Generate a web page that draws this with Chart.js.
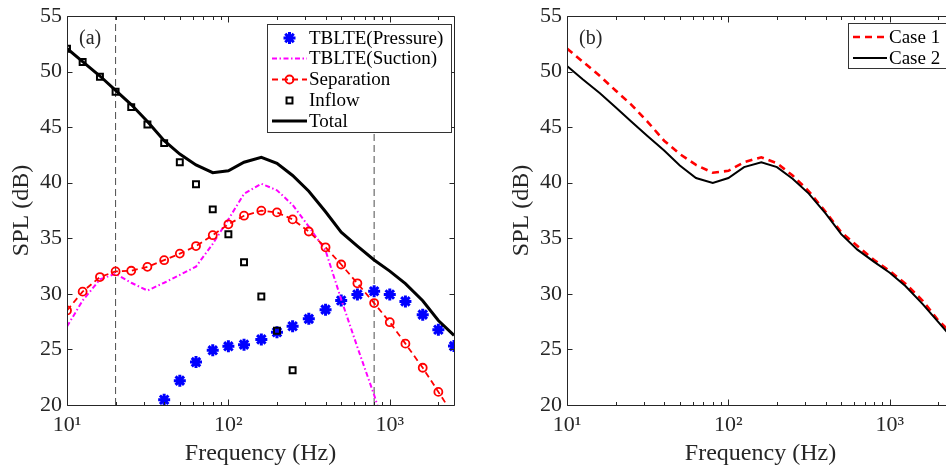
<!DOCTYPE html>
<html><head><meta charset="utf-8">
<script src="https://cdn.jsdelivr.net/npm/chart.js@4.4.1/dist/chart.umd.min.js"></script>
<style>
html,body{margin:0;padding:0;background:#fff;width:946px;height:472px;overflow:hidden;position:relative;}
.panel{position:absolute;top:0;width:473px;height:472px;}
#pa{left:0}
#pb{left:500px}
</style></head><body>
<div class="panel" id="pa"><canvas id="ca" width="473" height="472"></canvas></div>
<div class="panel" id="pb"><canvas id="cb" width="473" height="472"></canvas></div>
<script>
// 1/3-octave band centre frequencies (Hz)
const freq = [10,12.5,16,20,25,31.5,40,50,63,80,100,125,160,200,250,315,400,500,630,800,1000,1250,1600,2000,2500];
// panel (a)
const tblteP = [null,null,null,null,null,null,20.47,22.19,23.86,24.92,25.28,25.43,25.9,26.55,27.09,27.75,28.58,29.4,29.94,30.24,29.94,29.32,28.13,26.77,25.3];
const tblteS = [27.06,29.4,31.3,31.81,31.0,30.3,31.0,31.7,32.45,34.5,36.7,39.0,39.91,39.32,38.0,36.05,33.9,29.5,25.2,20.9,16.4,null,null,null,null];
const separation = [28.51,30.2,31.51,32.02,32.08,32.43,33.03,33.62,34.3,35.28,36.26,37.03,37.48,37.33,36.7,35.61,34.19,32.64,30.95,29.17,27.45,25.52,23.35,21.18,19.0];
const inflow = [52.06,50.86,49.53,48.19,46.8,45.23,43.56,41.84,39.86,37.6,35.37,32.85,29.76,26.68,23.12,null,null,null,null,null,null,null,null,null,null];
const total = [52.08,50.9,49.6,48.3,47.03,45.5,43.78,42.58,41.6,40.9,41.07,41.84,42.29,41.75,40.65,39.23,37.39,35.55,34.3,33.05,32.05,30.92,29.38,27.6,26.26];
// panel (b)
const case1 = total;
const case2 = [50.51,49.3,48.05,46.8,45.5,44.2,42.9,41.55,40.42,39.97,40.42,41.4,41.84,41.4,40.36,39.02,37.24,35.37,33.98,32.88,31.9,30.71,29.08,27.45,25.85];
// reference vertical lines (Hz)
const vlines = [20, 800];
// axis
const xMin = 10, xMax = 2500, yMin = 20, yMax = 55, yStep = 5;
const xMajor = [10, 100, 1000];
const xLabels = {10:'10\u00B9', 100:'10\u00B2', 1000:'10\u00B3'};
const xTitle = 'Frequency (Hz)';
const yTitle = 'SPL (dB)';
const legendA = ['TBLTE(Pressure)','TBLTE(Suction)','Separation','Inflow','Total'];
const legendB = ['Case 1','Case 2'];

const TXT = '#262626';
const FONT = 'Liberation Serif';
const CSSFONT = "'Liberation Serif', 'DejaVu Serif', serif";

function pts(arr){ return freq.map((f,i)=>({x:f, y:arr[i]})); }

function drawMarker(ctx, style, x, y, r, color, lw, fill){
  ctx.save();
  ctx.strokeStyle = color; ctx.lineWidth = lw; ctx.setLineDash([]);
  ctx.beginPath();
  if (style === 'star'){
    for (let k=0;k<4;k++){
      const a = k*Math.PI/4;
      const dx = Math.cos(a)*r, dy = Math.sin(a)*r;
      ctx.moveTo(x-dx,y-dy); ctx.lineTo(x+dx,y+dy);
    }
    ctx.stroke();
  } else if (style === 'circle'){
    ctx.arc(x,y,r,0,Math.PI*2);
    if (fill){ctx.fillStyle=fill;ctx.fill();}
    ctx.stroke();
  } else if (style === 'rect'){
    const s = Math.SQRT1_2*r;
    ctx.rect(x-s,y-s,2*s,2*s);
    if (fill){ctx.fillStyle=fill;ctx.fill();}
    ctx.stroke();
  }
  ctx.restore();
}

const framePlugin = {
  id: 'frame',
  afterDatasetsDraw(chart){
    const {ctx, chartArea:a, scales:{x, y}} = chart;
    const cfg = chart.options.plugins.frame;
    ctx.save();
    ctx.strokeStyle = TXT; ctx.lineWidth = 1; ctx.setLineDash([]);
    const L = Math.round(a.left)+0.5, R = Math.round(a.right)+0.5, T = Math.round(a.top)+0.5, B = Math.round(a.bottom)+0.5;
    ctx.beginPath();
    ctx.moveTo(L,T); ctx.lineTo(R,T); ctx.lineTo(R,B); ctx.lineTo(L,B); ctx.closePath();
    ctx.stroke();
    ctx.beginPath();
    for (let d = 10; d <= 1000; d *= 10){
      for (let m = 1; m <= 9; m++){
        const v = d*m;
        if (v < xMin || v > xMax) continue;
        const px = Math.round(x.getPixelForValue(v))+0.5;
        const len = (m===1) ? 6 : 3.5;
        ctx.moveTo(px,B); ctx.lineTo(px,B-len);
        ctx.moveTo(px,T); ctx.lineTo(px,T+len);
      }
    }
    for (let v = yMin; v <= yMax; v += yStep){
      const py = Math.round(y.getPixelForValue(v))+0.5;
      ctx.moveTo(L,py); ctx.lineTo(L+5,py);
      ctx.moveTo(R,py); ctx.lineTo(R-5,py);
    }
    ctx.stroke();
    // axis titles
    ctx.fillStyle = TXT;
    ctx.font = "24px " + CSSFONT;
    ctx.textAlign = 'center'; ctx.textBaseline = 'middle';
    ctx.fillText(xTitle, (a.left + a.right)/2, 454);
    ctx.save();
    ctx.translate(22, (a.top + a.bottom)/2);
    ctx.rotate(-Math.PI/2);
    ctx.fillText(yTitle, 0, 0);
    ctx.restore();
    // panel label
    ctx.font = "20px " + CSSFONT;
    ctx.textBaseline = 'middle'; ctx.textAlign = 'left';
    ctx.fillText(cfg.label, a.left + 12, a.top + 23);
    // legend
    const lg = cfg.legend;
    ctx.fillStyle = '#fff';
    ctx.fillRect(lg.box[0], lg.box[1], lg.box[2]-lg.box[0], lg.box[3]-lg.box[1]);
    ctx.strokeStyle = '#333'; ctx.lineWidth = 1;
    ctx.strokeRect(lg.box[0]+0.5, lg.box[1]+0.5, lg.box[2]-lg.box[0], lg.box[3]-lg.box[1]);
    ctx.font = "19px " + CSSFONT;
    lg.items.forEach((name, k) => {
      const ds = chart.data.datasets.find(d => d.label === name);
      const yy = lg.rows[k];
      if (ds.showLine !== false){
        ctx.save();
        ctx.strokeStyle = ds.borderColor; ctx.lineWidth = ds.borderWidth;
        ctx.setLineDash(ds.borderDash || []);
        ctx.beginPath(); ctx.moveTo(lg.sx[0], yy); ctx.lineTo(lg.sx[1], yy); ctx.stroke();
        ctx.restore();
      }
      if (ds.pointRadius > 0){
        drawMarker(ctx, ds.pointStyle, (lg.sx[0]+lg.sx[1])/2, yy, ds.pointRadius, ds.pointBorderColor, ds.pointBorderWidth, ds.pointBackgroundColor);
      }
      ctx.fillStyle = '#000';
      ctx.textAlign = 'left'; ctx.textBaseline = 'middle';
      ctx.fillText(name, lg.tx, yy + 1);
    });
    ctx.restore();
  }
};

function options(frameCfg){
  return {
    responsive: false, animation: false, devicePixelRatio: 1,
    layout: {padding: {top: 12, right: 19, left: 0, bottom: 0}},
    elements: {line: {tension: 0}},
    plugins: {legend: {display: false}, tooltip: {enabled: false}, frame: frameCfg},
    scales: {
      x: {
        type: 'logarithmic', min: xMin, max: xMax, position: 'bottom',
        grid: {display: false, drawTicks: false}, border: {display: false},
        afterBuildTicks: s => { s.ticks = xMajor.map(v => ({value: v})); },
        afterFit: s => { s.height = 67; },
        ticks: {autoSkip: false, maxRotation: 0, padding: 9, color: TXT,
          font: {family: FONT, size: 22, lineHeight: 1},
          callback: v => xLabels[v] || ''},
        title: {display: false, text: xTitle}
      },
      y: {
        type: 'linear', min: yMin, max: yMax, position: 'left',
        grid: {display: false, drawTicks: false}, border: {display: false},
        afterFit: s => { s.width = 67; },
        ticks: {stepSize: yStep, padding: 5, color: TXT,
          font: {family: FONT, size: 22, lineHeight: 1}},
        title: {display: false, text: yTitle}
      }
    }
  };
}

function vlineDatasets(){
  return vlines.map(f => ({
    label: 'v' + f, data: [{x:f,y:yMin},{x:f,y:yMax}],
    borderColor: '#4d4d4d', borderWidth: 1, borderDash: [7,4], pointRadius: 0, order: 10, clip: 0
  }));
}

Chart.defaults.font.family = FONT;

new Chart(document.getElementById('ca'), {
  type: 'line',
  data: {datasets: [
    ...vlineDatasets(),
    {label: legendA[0], data: pts(tblteP), showLine: false, pointStyle: 'star', pointRadius: 6,
     pointBorderWidth: 3, pointBorderColor: '#0000ff', pointBackgroundColor: '#0000ff', borderColor: '#0000ff', order: 5},
    {label: legendA[1], data: pts(tblteS), borderColor: '#ff00ff', borderWidth: 2, borderDash: [5,2.5,1.5,2.5],
     pointRadius: 0, order: 4},
    {label: legendA[2], data: pts(separation), borderColor: '#ff0000', borderWidth: 1.8, borderDash: [6,4],
     pointStyle: 'circle', pointRadius: 4, pointBorderWidth: 1.8, pointBorderColor: '#ff0000', pointBackgroundColor: 'rgba(0,0,0,0)', order: 3},
    {label: legendA[3], data: pts(inflow), showLine: false, pointStyle: 'rect', pointRadius: 4.2,
     pointBorderWidth: 2, pointBorderColor: '#000', pointBackgroundColor: 'rgba(0,0,0,0)', borderColor: '#000', order: 2},
    {label: legendA[4], data: pts(total), borderColor: '#000', borderWidth: 3, pointRadius: 0, order: 1}
  ]},
  options: options({label: '(a)', legend: {box: [267,24,451,132], rows: [38,58.5,79.5,100.5,121], sx: [272,307], tx: 309, items: legendA}}),
  plugins: [framePlugin]
});

new Chart(document.getElementById('cb'), {
  type: 'line',
  data: {datasets: [
    {label: legendB[0], data: pts(case1), borderColor: '#ff0000', borderWidth: 2.6, borderDash: [7,5], pointRadius: 0, order: 2},
    {label: legendB[1], data: pts(case2), borderColor: '#000', borderWidth: 2, pointRadius: 0, order: 1}
  ]},
  options: options({label: '(b)', legend: {box: [348,23,446,68], rows: [37,58], sx: [353,387], tx: 389, items: legendB}}),
  plugins: [framePlugin]
});
</script>
</body></html>
